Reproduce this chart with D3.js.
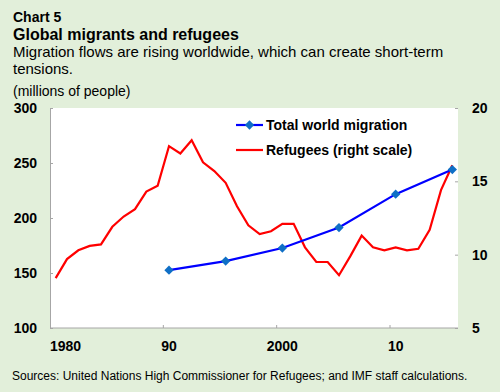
<!DOCTYPE html>
<html>
<head>
<meta charset="utf-8">
<script src="https://cdn.jsdelivr.net/npm/d3@7"></script>
<style>
  body { margin: 0; background: #e2efda; }
  svg { display: block; font-family: Arial, "Liberation Sans", sans-serif; }
</style>
</head>
<body>
<div id="chart"></div>
<script>
// years on the category axis
const years = d3.range(1980, 2016).map(String);

// refugees, millions (right scale), one value per year 1980-2015
const refugees = [8.4, 9.7, 10.3, 10.6, 10.7, 11.9, 12.6, 13.1, 14.3, 14.7,
  17.4, 16.9, 17.8, 16.3, 15.7, 14.9, 13.3, 12.0, 11.4, 11.6,
  12.1, 12.1, 10.5, 9.5, 9.5, 8.6, 9.9, 11.3, 10.5, 10.3,
  10.5, 10.3, 10.4, 11.7, 14.4, 16.1];

// total world migration, millions (left scale)
const migYears = ["1990", "1995", "2000", "2005", "2010", "2015"];
const migration = [152.6, 160.8, 172.7, 191.3, 221.7, 244.0];

const leftTicks = [100, 150, 200, 250, 300];
const rightTicks = [5, 10, 15, 20];
const xTickYears = ["1980", "1990", "2000", "2010"];
const xTickLabels = ["1980", "90", "2000", "10"];

const width = 500, height = 392;
const plot = { left: 50, right: 458, top: 108, bottom: 328 };

const svg = d3.select("#chart").append("svg")
  .attr("width", width)
  .attr("height", height);

svg.append("rect")
  .attr("width", width)
  .attr("height", height)
  .attr("fill", "#e2efda");

// titles
svg.append("text").attr("x", 13).attr("y", 22)
  .attr("font-size", 14).attr("font-weight", "bold")
  .text("Chart 5");
svg.append("text").attr("x", 13).attr("y", 39.5)
  .attr("font-size", 16).attr("font-weight", "bold")
  .text("Global migrants and refugees");
svg.append("text").attr("x", 13).attr("y", 57)
  .attr("font-size", 15)
  .text("Migration flows are rising worldwide, which can create short-term");
svg.append("text").attr("x", 13).attr("y", 74)
  .attr("font-size", 15)
  .text("tensions.");
svg.append("text").attr("x", 13).attr("y", 96)
  .attr("font-size", 14)
  .text("(millions of people)");

// scales
const x = d3.scaleBand().domain(years).range([plot.left, plot.right]);
const bw = x.bandwidth();
const cx = d => x(d) + bw / 2;
const yL = d3.scaleLinear().domain([100, 300]).range([plot.bottom, plot.top]);
const yR = d3.scaleLinear().domain([5, 20]).range([plot.bottom, plot.top]);

// plot area
svg.append("rect")
  .attr("x", plot.left)
  .attr("y", plot.top)
  .attr("width", plot.right - plot.left)
  .attr("height", plot.bottom - plot.top)
  .attr("fill", "#fff");

const axisColor = "#a6a6a6";

// left axis
const gL = svg.append("g").attr("transform", `translate(${plot.left},0)`)
  .call(d3.axisLeft(yL).tickValues(leftTicks).tickSizeInner(-3).tickSizeOuter(0).tickPadding(13));
gL.select(".domain").attr("stroke", axisColor);
gL.selectAll(".tick line").attr("stroke", axisColor);
gL.selectAll(".tick text")
  .attr("font-size", 14).attr("font-weight", "bold").attr("fill", "#000")
  .attr("font-family", "Arial, 'Liberation Sans', sans-serif");

// right axis (ticks only)
const gR = svg.append("g").attr("transform", `translate(${plot.right},0)`)
  .call(d3.axisRight(yR).tickValues(rightTicks).tickSizeInner(-3).tickSizeOuter(0).tickPadding(14));
gR.select(".domain").remove();
gR.selectAll(".tick line").attr("stroke", axisColor);
gR.selectAll(".tick text")
  .attr("font-size", 14).attr("font-weight", "bold").attr("fill", "#000")
  .attr("font-family", "Arial, 'Liberation Sans', sans-serif");

// bottom axis: ticks at category boundaries, labels centred on category
const gX = svg.append("g");
gX.append("line")
  .attr("x1", plot.left).attr("x2", plot.right)
  .attr("y1", plot.bottom).attr("y2", plot.bottom)
  .attr("stroke", axisColor);
gX.selectAll("line.tick").data(xTickYears.slice(1)).enter()
  .append("line").attr("class", "tick")
  .attr("x1", d => x(d)).attr("x2", d => x(d))
  .attr("y1", plot.bottom).attr("y2", plot.bottom - 3)
  .attr("stroke", axisColor);
gX.selectAll("text").data(xTickYears).enter()
  .append("text")
  .attr("x", (d, i) => i === 0 ? plot.left : cx(d))
  .attr("y", 351)
  .attr("text-anchor", (d, i) => i === 0 ? "start" : "middle")
  .attr("font-size", 14).attr("font-weight", "bold")
  .text((d, i) => xTickLabels[i]);

// refugees line
const refLine = d3.line().x((d, i) => cx(years[i])).y(d => yR(d));
svg.append("path")
  .datum(refugees)
  .attr("d", refLine)
  .attr("fill", "none")
  .attr("stroke", "#ff0000")
  .attr("stroke-width", 2.2)
  .attr("stroke-linejoin", "miter");

// migration line with diamonds
const migLine = d3.line().x((d, i) => cx(migYears[i])).y(d => yL(d));
svg.append("path")
  .datum(migration)
  .attr("d", migLine)
  .attr("fill", "none")
  .attr("stroke", "#0000ff")
  .attr("stroke-width", 2.2);

const diamond = d3.symbol().type(d3.symbolDiamond2).size(55);
svg.selectAll("path.mark").data(migration).enter()
  .append("path").attr("class", "mark")
  .attr("d", diamond)
  .attr("transform", (d, i) => `translate(${cx(migYears[i])},${yL(d)})`)
  .attr("fill", "#0f6fc6");

// legend
const legend = svg.append("g");
legend.append("line")
  .attr("x1", 236).attr("x2", 263).attr("y1", 125).attr("y2", 125)
  .attr("stroke", "#0000ff").attr("stroke-width", 2.2);
legend.append("path")
  .attr("d", diamond)
  .attr("transform", "translate(249.5,125)")
  .attr("fill", "#0f6fc6");
legend.append("text")
  .attr("x", 266).attr("y", 125).attr("dy", "0.35em")
  .attr("font-size", 14).attr("font-weight", "bold")
  .text("Total world migration");
legend.append("line")
  .attr("x1", 236).attr("x2", 263).attr("y1", 150).attr("y2", 150)
  .attr("stroke", "#ff0000").attr("stroke-width", 2.2);
legend.append("text")
  .attr("x", 266).attr("y", 150).attr("dy", "0.35em")
  .attr("font-size", 14).attr("font-weight", "bold")
  .text("Refugees (right scale)");

// source note
svg.append("text").attr("x", 12).attr("y", 380)
  .attr("font-size", 12)
  .text("Sources: United Nations High Commissioner for Refugees; and IMF staff calculations.");
</script>
</body>
</html>
